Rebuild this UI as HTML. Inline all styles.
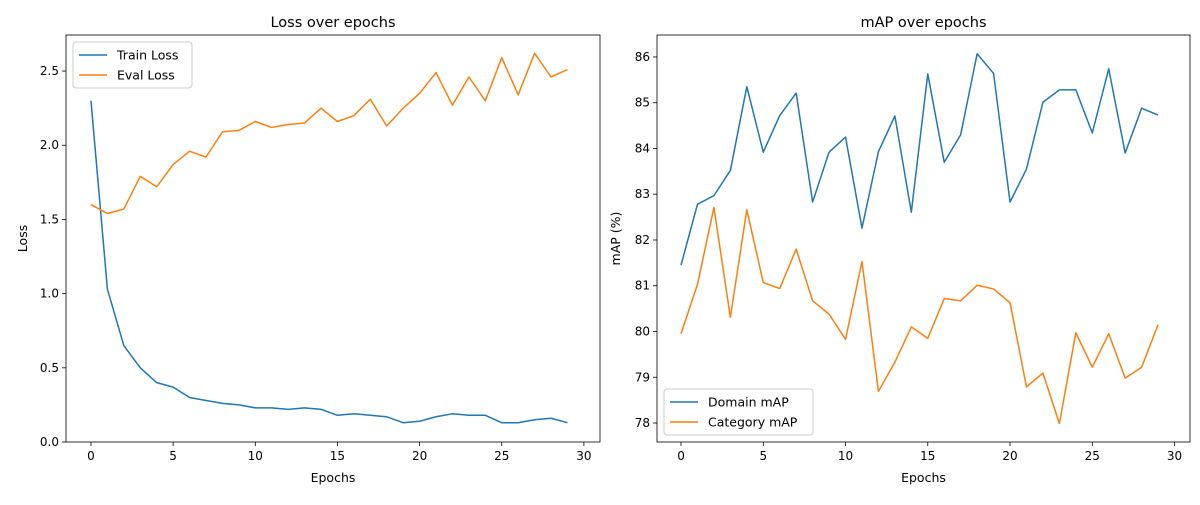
<!DOCTYPE html>
<html><head><meta charset="utf-8"><style>
body{margin:0;background:#fff;font-family:"Liberation Sans","DejaVu Sans",sans-serif}
svg text{font-family:"DejaVu Sans","Liberation Sans",sans-serif;fill:#000}
</style></head><body>
<svg id="c" width="1200" height="500"></svg>
<script>
const epochs=[...Array(30).keys()];
const trainLoss=[2.30,1.03,0.65,0.50,0.40,0.37,0.30,0.28,0.26,0.25,0.23,0.23,0.22,0.23,0.22,0.18,0.19,0.18,0.17,0.13,0.14,0.17,0.19,0.18,0.18,0.13,0.13,0.15,0.16,0.13];
const evalLoss=[1.60,1.54,1.57,1.79,1.72,1.87,1.96,1.92,2.09,2.10,2.16,2.12,2.14,2.15,2.25,2.16,2.20,2.31,2.13,2.25,2.35,2.49,2.27,2.46,2.30,2.59,2.34,2.62,2.46,2.51];
const domainMap=[81.45,82.78,82.97,83.52,85.35,83.92,84.72,85.21,82.83,83.92,84.25,82.26,83.93,84.71,82.61,85.63,83.70,84.30,86.07,85.64,82.83,83.55,85.01,85.28,85.28,84.34,85.74,83.90,84.88,84.73];
const categoryMap=[79.95,81.03,82.71,80.31,82.66,81.07,80.94,81.80,80.67,80.38,79.83,81.53,78.69,79.33,80.10,79.85,80.72,80.67,81.01,80.93,80.63,78.79,79.09,77.99,79.97,79.22,79.95,78.98,79.22,80.15];
const xTicks=[0,5,10,15,20,25,30];
const lossTicks=[0.0,0.5,1.0,1.5,2.0,2.5];
const mapTicks=[78,79,80,81,82,83,84,85,86];
const NS="http://www.w3.org/2000/svg",svg=document.getElementById('c');
function el(t,a,txt,p){const e=document.createElementNS(NS,t);for(const k in a)e.setAttribute(k,a[k]);if(txt!=null)e.textContent=txt;(p||svg).appendChild(e);return e;}
function panel(o){
 const g=el('g',{});
 
 
 const X=v=>o.x0+(v-o.xmin)/(o.xmax-o.xmin)*(o.x1-o.x0);
 const Y=v=>o.y1-(v-o.ymin)/(o.ymax-o.ymin)*(o.y1-o.y0);
 xTicks.forEach(t=>{const x=X(t);el('line',{x1:x,x2:x,y1:o.y1,y2:o.y1+4,stroke:'#000','stroke-width':0.8},null,g);
  const tx=el('text',{x:x,y:o.y1+18,'text-anchor':'middle','font-size':12},t,g);
  
  });
 o.yt.forEach(t=>{const y=Y(t);el('line',{x1:o.x0-4,x2:o.x0,y1:y,y2:y,stroke:'#000','stroke-width':0.8},null,g);
  const tx=el('text',{x:o.x0-7,y:y+4,'text-anchor':'end','font-size':12},o.fmt(t),g);
  
  });
 o.series.forEach(s=>{const p=el('polyline',{points:epochs.map((e,i)=>X(e)+','+Y(s.d[i])).join(' '),fill:'none',stroke:s.c,'stroke-width':1.5,'stroke-linejoin':'round'},null,g);
  
  });
 el('rect',{x:o.x0,y:o.y0,width:o.x1-o.x0,height:o.y1-o.y0,fill:'none',stroke:'#000','stroke-width':0.8},null,g);
 const tt=el('text',{x:(o.x0+o.x1)/2,y:o.y0-8,'text-anchor':'middle','font-size':14.5},o.title,g);
 
 
 const xl=el('text',{x:(o.x0+o.x1)/2,y:o.y1+40,'text-anchor':'middle','font-size':12.5},'Epochs',g);
 
 
 const yl=el('text',{x:0,y:0,'text-anchor':'middle','font-size':12.5,transform:`translate(${o.ylx},${(o.y0+o.y1)/2}) rotate(-90)`},o.ylabel,g);
 
 
 const lg=el('g',{},null,g);
 
 
 el('rect',{x:o.lx,y:o.ly,width:o.lw,height:46,rx:3,fill:'#fff','fill-opacity':0.8,stroke:'#ccc'},null,lg);
 o.series.forEach((s,i)=>{const yy=o.ly+13+i*20;
  el('line',{x1:o.lx+6,x2:o.lx+34,y1:yy,y2:yy,stroke:s.c,'stroke-width':1.5},null,lg);
  const le=el('text',{x:o.lx+44,y:yy+4.5,'font-size':12.5},s.label,lg);
  
  });
}
panel({name:'loss-chart',x0:66,x1:600,y0:35,y1:442,xmin:-1.52,xmax:30.98,ymin:0,ymax:2.743,yt:lossTicks,fmt:t=>t.toFixed(1),
 title:'Loss over epochs',ylabel:'Loss',ylx:27,lx:73,ly:42,lw:119,
 series:[{d:trainLoss,c:'#1f77b4',n:'train-loss-line',label:'Train Loss'},{d:evalLoss,c:'#ff7f0e',n:'eval-loss-line',label:'Eval Loss'}]});
panel({name:'map-chart',x0:657,x1:1190,y0:35,y1:442,xmin:-1.46,xmax:30.94,ymin:77.585,ymax:86.48,yt:mapTicks,fmt:t=>t,
 title:'mAP over epochs',ylabel:'mAP (%)',ylx:620,lx:664,ly:389,lw:149,
 series:[{d:domainMap,c:'#1f77b4',n:'domain-map-line',label:'Domain mAP'},{d:categoryMap,c:'#ff7f0e',n:'category-map-line',label:'Category mAP'}]});
</script>
</body></html>
